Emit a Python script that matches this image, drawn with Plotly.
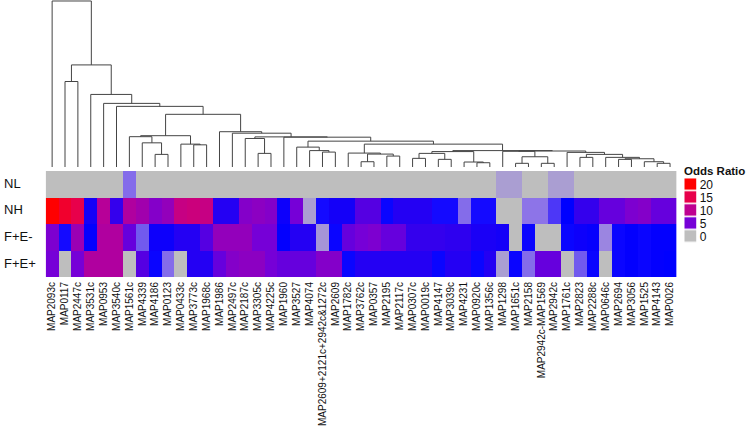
import plotly.graph_objects as go

# ---------------- data ----------------
columns = ["MAP2093c", "MAP0117", "MAP2447c", "MAP3531c", "MAP0953", "MAP3540c", "MAP1561c",
           "MAP4339", "MAP4186", "MAP0123", "MAP0433c", "MAP3773c", "MAP1968c", "MAP1986",
           "MAP2497c", "MAP2187c", "MAP3305c", "MAP4225c", "MAP1960", "MAP3527", "MAP4074",
           "MAP2609+2121c+2942c&1272c", "MAP2609", "MAP1782c", "MAP3762c", "MAP0357", "MAP2195",
           "MAP2117c", "MAP0307c", "MAP0019c", "MAP4147", "MAP3039c", "MAP4231", "MAP0920c",
           "MAP1356c", "MAP1298", "MAP1651c", "MAP2158", "MAP2942c-MAP1569", "MAP2942c",
           "MAP1761c", "MAP2823", "MAP2288c", "MAP0646c", "MAP2694", "MAP3056", "MAP1525",
           "MAP4143", "MAP0026"]
rows = ["NL", "NH", "F+E-", "F+E+"]

odds_NL = [0, 0, 0, 0, 0, 0, 0.5, 0, 0, 0, 0, 0, 0, 0, 0, 0, 0, 0, 0, 0, 0, 0, 0, 0, 0,
           0, 0, 0, 0, 0, 0, 0, 0, 0, 0, 0.2, 0.2, 0, 0, 0.2, 0.2, 0, 0, 0, 0, 0, 0, 0, 0]
odds_NH = [20, 17, 15, 2, 9.5, 3, 9, 8, 6, 7, 11, 11.5, 11, 2.5, 2.5, 6, 6.5, 6, 1.8, 5, 0.2,
           1.2, 2, 2, 4, 4, 1.3, 2.5, 2.5, 2.5, 1.2, 1.2, 0.5, 1.2, 1.2, 0, 0, 0.45, 0.45, 0.8,
           1.4, 3, 3, 4.5, 4.5, 5.5, 6, 4.5, 4.5]
odds_FEm = [5.5, 1.2, 7.5, 1.5, 9, 9, 4.5, 0.6, 1.8, 1.8, 2.5, 2.5, 4, 7, 7, 7, 5, 5, 1.5,
            2.5, 2.5, 0.25, 1.3, 4.5, 5, 5.5, 4.5, 4.5, 3, 3, 3, 2.8, 2.8, 2.2, 2.2, 2, 0,
            1.3, 0, 0, 1.3, 1.8, 1.6, 0.35, 1.3, 1.5, 1.3, 1.5, 1.5]
odds_FEp = [5, 0, 5, 9, 9, 9, 0, 4, 1.3, 0.5, 0, 2.5, 2.5, 4.5, 6, 6.5, 6.5, 5, 4.5, 4.5,
            4.5, 6, 6, 1.3, 2.5, 2.5, 2.5, 2.5, 2.5, 2.5, 1.3, 2.5, 2.5, 1.3, 2.5, 0.2, 1.3,
            0.5, 4.5, 4.5, 0, 0.6, 1.3, 0, 1.3, 1.5, 1.3, 1.5, 1.4]

# column dendrogram (linkage: leaves 0..48, merge k creates node 49+k)
merge_a = [8, 7, 6, 11, 10, 51, 16, 15, 21, 20, 19, 24, 26, 60, 23, 28, 30, 64, 33, 32, 66,
           36, 38, 70, 35, 41, 44, 47, 46, 75, 43, 74, 40, 73, 69, 63, 59, 18, 56, 14, 13,
           54, 5, 4, 3, 1, 94, 0]
merge_b = [9, 49, 50, 12, 52, 53, 17, 55, 22, 57, 58, 25, 27, 61, 62, 29, 31, 65, 34, 67, 68,
           37, 39, 71, 72, 42, 45, 48, 76, 77, 78, 79, 80, 81, 82, 83, 84, 85, 86, 87, 88,
           89, 90, 91, 92, 2, 93, 95]
merge_h = [12.7, 24.3, 30.5, 22.3, 23, 31.5, 13.7, 28.7, 15, 16.5, 20, 5.3, 11, 13, 14, 8.7,
           7.7, 13.7, 4.3, 5, 15.5, 3.7, 3.7, 10.3, 15.8, 9.7, 7.7, 3.7, 5.3, 8.3, 9.7, 12.7,
           14.7, 16.1, 16.5, 23, 26, 30, 30.3, 34, 35.5, 53, 61, 64, 73, 86, 102.7, 167]

legend_vals = [20, 15, 10, 5, 0]

# ---------------- figure ----------------
colorscale = [
    [0.0, "rgb(190,190,190)"],
    [0.02, "rgb(150,125,230)"],
    [0.05, "rgb(40,20,255)"],
    [0.07, "rgb(0,0,255)"],
    [0.25, "rgb(118,0,215)"],
    [0.5, "rgb(190,0,145)"],
    [0.75, "rgb(232,0,75)"],
    [1.0, "rgb(255,0,0)"],
]

W, H = 747, 426
def px_x(v):
    return v / W
def px_y(v):
    return (H - v) / H

hm_x0, hm_x1 = 45.7, 676.5
hm_top, hm_bot = 171, 277
dd_top, dd_bot = 0, 167

n = len(columns)
fig = go.Figure()

fig.add_trace(go.Heatmap(
    z=[odds_NL, odds_NH, odds_FEm, odds_FEp],
    x=list(range(n)), y=list(range(len(rows))),
    colorscale=colorscale, zmin=0, zmax=20, showscale=False,
    xaxis="x", yaxis="y", hoverinfo="skip"))

# dendrogram lines
pos = {i: float(i) for i in range(n)}
hgt = {i: 0.0 for i in range(n)}
lx, ly = [], []
for k, (a, b, h) in enumerate(zip(merge_a, merge_b, merge_h)):
    xa, xb = pos[a], pos[b]
    lx += [xa, xa, xb, xb, None]
    ly += [hgt[a], h, h, hgt[b], None]
    pos[n + k] = (xa + xb) / 2
    hgt[n + k] = h
fig.add_trace(go.Scatter(x=lx, y=ly, mode="lines",
                         line=dict(color="#444444", width=1),
                         xaxis="x2", yaxis="y2", hoverinfo="skip", showlegend=False))

# legend key
fig.add_trace(go.Heatmap(
    z=[[v] for v in legend_vals], x=[0], y=list(range(len(legend_vals))),
    colorscale=colorscale, zmin=0, zmax=20, showscale=False, ygap=1.6,
    xaxis="x3", yaxis="y3", hoverinfo="skip"))

font_family = "Liberation Sans, Arial, sans-serif"

fig.update_layout(
    width=W, height=H,
    margin=dict(l=0, r=0, t=0, b=0),
    paper_bgcolor="white", plot_bgcolor="white",
    showlegend=False,
    font=dict(family=font_family, color="#111111"),
    xaxis=dict(domain=[px_x(hm_x0), px_x(hm_x1)], range=[-0.5, n - 0.5],
               tickmode="array", tickvals=list(range(n)), ticktext=columns,
               tickangle=-90, tickfont=dict(size=10, color="#111111"),
               ticks="", showgrid=False, zeroline=False, showline=False,
               anchor="y", ticklabelstandoff=2, automargin=False),
    yaxis=dict(domain=[px_y(hm_bot), px_y(hm_top)], range=[len(rows) - 0.5, -0.5],
               showticklabels=False, ticks="", showgrid=False, zeroline=False,
               anchor="x"),
    xaxis2=dict(domain=[px_x(hm_x0), px_x(hm_x1)], range=[-0.5, n - 0.5],
                visible=False, anchor="y2"),
    yaxis2=dict(domain=[px_y(dd_bot), px_y(dd_top)], range=[0, 168],
                visible=False, anchor="x2"),
    xaxis3=dict(domain=[px_x(684.3), px_x(696.7)], range=[-0.5, 0.5],
                visible=False, anchor="y3"),
    yaxis3=dict(domain=[px_y(243.3), px_y(178.3)], range=[len(legend_vals) - 0.5, -0.5],
                side="right", tickmode="array", tickvals=list(range(len(legend_vals))),
                ticktext=[str(v) for v in legend_vals], tickfont=dict(size=12, color="#111111"),
                ticks="", showgrid=False, zeroline=False, showline=False,
                anchor="x3", ticklabelstandoff=2, automargin=False),
)

row_centers = [183.5, 209.5, 236.5, 263.5]
for name, yc in zip(rows, row_centers):
    fig.add_annotation(text=name, xref="paper", yref="paper", x=px_x(2), y=px_y(yc),
                       xanchor="left", yanchor="middle", showarrow=False,
                       font=dict(size=13, color="#111111"))

fig.add_annotation(text="<b>Odds Ratio</b>", xref="paper", yref="paper",
                   x=px_x(682), y=px_y(171), xanchor="left", yanchor="middle",
                   showarrow=False, font=dict(size=11.5, color="#111111"))

fig.write_html("out.html",
               config={"displayModeBar": False},
               post_script="document.body.style.margin='0';document.body.style.overflow='hidden';")
